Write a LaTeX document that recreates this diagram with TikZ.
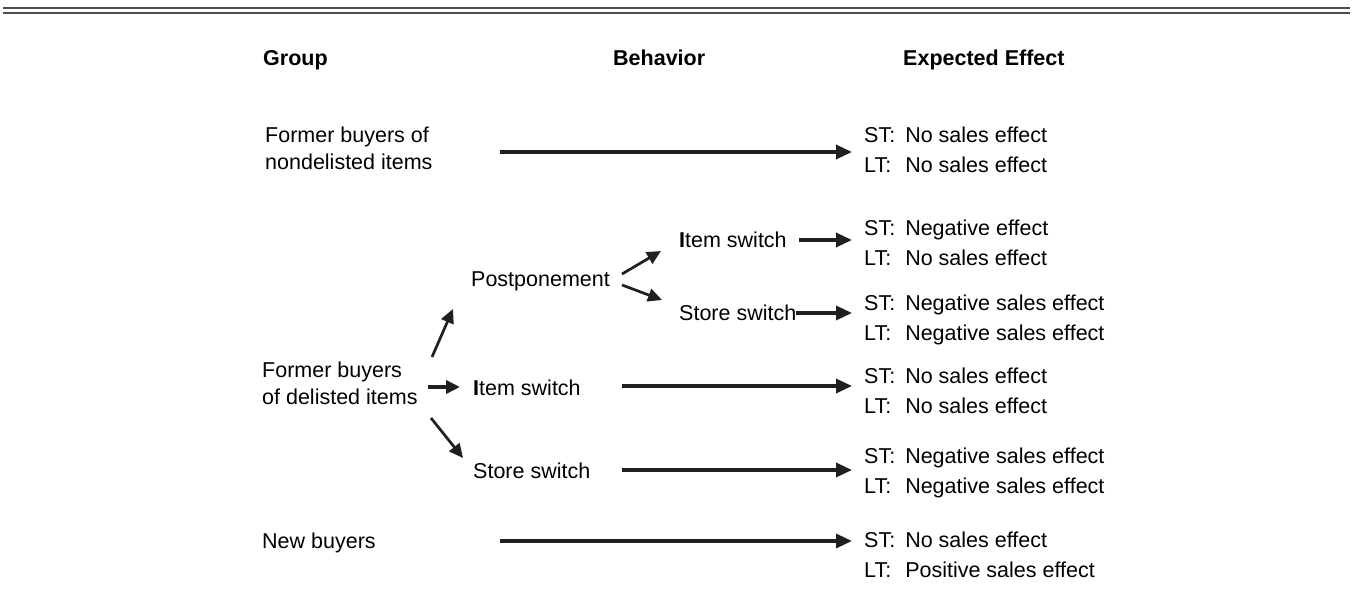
\documentclass[tikz,border=0pt]{standalone}
\usepackage{fontspec}
\setmainfont{Liberation Sans}
\usetikzlibrary{arrows.meta,positioning}

\tikzset{
  txt/.style={inner sep=0pt, anchor=base west, font=\fontsize{21.5}{27}\selectfont},
  head/.style={txt, font=\fontsize{21.5}{27}\selectfont\bfseries},
  grp/.style={inner sep=0pt, anchor=north west, align=left, font=\fontsize{21.5}{27}\selectfont},
  eff/.style={inner sep=0pt, anchor=west, font=\fontsize{21.5}{30}\selectfont},
  arr/.style={-{Triangle[length=16pt,width=14pt]}, line width=3.3pt, draw=black!88, shorten >=12pt},
  sarr/.style={-{Triangle[length=14pt,width=13pt]}, line width=2.7pt, draw=black!88},
  rule/.style={line width=2pt, draw=black!70}
}
\newcommand{\stlt}[2]{\begin{tabular}{@{}l@{\hspace{10pt}}l@{}}ST: & #1\\LT: & #2\end{tabular}}
\newcommand{\itemsw}{\textbf{I}tem switch}

\begin{document}
\begin{tikzpicture}[x=1pt,y=-1pt]
	\useasboundingbox (0,0) rectangle (1353,609);
	\draw[rule] (3,8.5) -- (1350,8.5);
	\draw[rule] (3,13.3) -- (1350,13.3);
	% column heads
	\node[head] (hgrp) at (263,65.5) {Group};
	\node[head] (hbeh) at (613,65.5) {Behavior};
	\node[head] (heff) at (903,65.5) {Expected Effect};
	% groups
	\node[grp] (nondel) at (265,127) {Former buyers of\\nondelisted items};
	\node[grp] (del) at (262,362) {Former buyers\\of delisted items};
	\node[txt] (new) at (262,548.5) {New buyers};
	% behaviors
	\node[txt] (post) at (471,286.5) {Postponement};
	\node[txt] (isw1) at (679,247.5) {\itemsw};
	\node[txt] (ssw1) at (679,320.5) {Store switch};
	\node[txt] (isw2) at (473,395.5) {\itemsw};
	\node[txt] (ssw2) at (473,478.5) {Store switch};
	% effects
	\node[eff] (e1) at (864,151.5) {\stlt{No sales effect}{No sales effect}};
	\node[eff] (e2) at (864,244.5) {\stlt{Negative effect}{No sales effect}};
	\node[eff] (e3) at (864,319.5) {\stlt{Negative sales effect}{Negative sales effect}};
	\node[eff] (e4) at (864,392.5) {\stlt{No sales effect}{No sales effect}};
	\node[eff] (e5) at (864,472.5) {\stlt{Negative sales effect}{Negative sales effect}};
	\node[eff] (e6) at (864,556.5) {\stlt{No sales effect}{Positive sales effect}};
	% long arrows
	\coordinate (a1) at (500,152);
	\coordinate (a2) at (799,240);
	\coordinate (a3) at (796,313);
	\coordinate (a4) at (622,386);
	\coordinate (a5) at (622,470);
	\coordinate (a6) at (500,541);
	\draw[arr] (a1) -- (a1 -| e1.west);
	\draw[arr] (a2) -- (a2 -| e2.west);
	\draw[arr] (a3) -- (a3 -| e3.west);
	\draw[arr] (a4) -- (a4 -| e4.west);
	\draw[arr] (a5) -- (a5 -| e5.west);
	\draw[arr] (a6) -- (a6 -| e6.west);
	% branching arrows
	\coordinate (d0) at (432,357);
	\coordinate (d1) at (453,309);
	\coordinate (d2) at (428,387);
	\coordinate (d3) at (460,387);
	\coordinate (d4) at (431,418);
	\coordinate (d5) at (463,458);
	\coordinate (p0) at (622,274);
	\coordinate (p1) at (661,251);
	\coordinate (p2) at (622,285);
	\coordinate (p3) at (662,300);
	\draw[sarr] (d0) -- (d1);
	\draw[sarr, line width=3.6pt] (d2) -- (d3);
	\draw[sarr] (d4) -- (d5);
	\draw[sarr] (p0) -- (p1);
	\draw[sarr] (p2) -- (p3);
\end{tikzpicture}
\end{document}
